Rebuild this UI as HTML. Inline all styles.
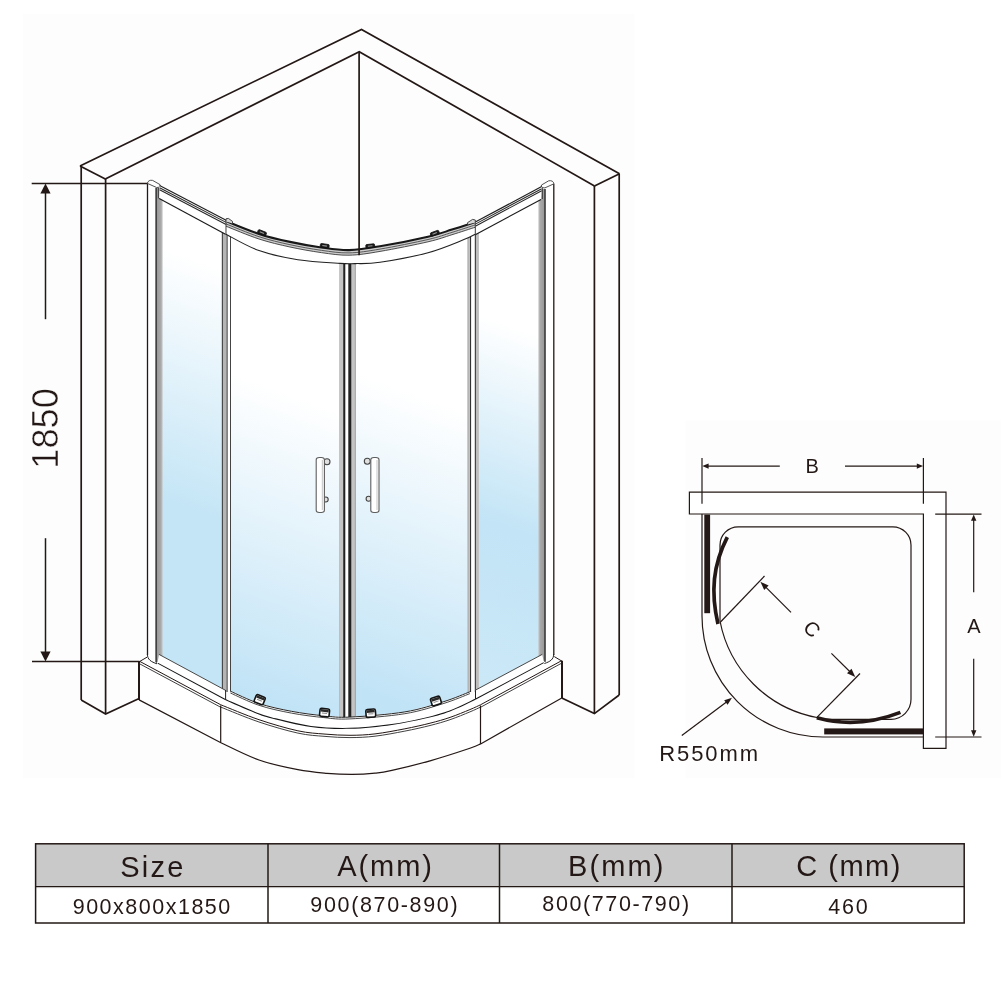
<!DOCTYPE html>
<html><head><meta charset="utf-8"><title>Shower enclosure 900x800x1850</title>
<style>
html,body{margin:0;padding:0;background:#ffffff;}
body{width:1001px;height:1001px;overflow:hidden;font-family:"Liberation Sans",sans-serif;}
svg{display:block;will-change:transform;}
</style></head><body>
<svg width="1001" height="1001" viewBox="0 0 1001 1001">
<defs>
<linearGradient id="gL" x1="192" y1="258" x2="110.9" y2="480.8" gradientUnits="userSpaceOnUse">
<stop offset="0" stop-color="#ffffff"/><stop offset="1" stop-color="#c4e5f6"/>
</linearGradient>
<linearGradient id="gR" x1="509" y1="325" x2="389.6" y2="653" gradientUnits="userSpaceOnUse">
<stop offset="0" stop-color="#ffffff"/><stop offset="0.55" stop-color="#c2e4f6"/><stop offset="1" stop-color="#cbe8f7"/>
</linearGradient>
<linearGradient id="gDL" x1="285" y1="392" x2="182.4" y2="674" gradientUnits="userSpaceOnUse">
<stop offset="0" stop-color="#ffffff"/><stop offset="1" stop-color="#c0e3f6"/>
</linearGradient>
<linearGradient id="gDR" x1="411" y1="392" x2="308.4" y2="674" gradientUnits="userSpaceOnUse">
<stop offset="0" stop-color="#ffffff"/><stop offset="1" stop-color="#c0e3f6"/>
</linearGradient>
<linearGradient id="gPL" x1="0" y1="0" x2="1" y2="0">
<stop offset="0" stop-color="#555555"/><stop offset="0.22" stop-color="#9a9a9a"/><stop offset="0.7" stop-color="#a8a8a8"/><stop offset="1" stop-color="#c4c4c4"/>
</linearGradient>
<linearGradient id="gPR" x1="1" y1="0" x2="0" y2="0">
<stop offset="0" stop-color="#555555"/><stop offset="0.22" stop-color="#9a9a9a"/><stop offset="0.7" stop-color="#a8a8a8"/><stop offset="1" stop-color="#c4c4c4"/>
</linearGradient>
</defs>
<rect x="0" y="0" width="1001" height="1001" fill="#ffffff"/>
<rect x="23" y="14" width="611.5" height="764" fill="#fdfdfd"/>
<rect x="685.5" y="420.5" width="315.5" height="357.5" fill="#fdfdfd"/>
<path d="M80 166L361.5 29.5L619.5 173.75" fill="none" stroke="#231815" stroke-width="1.7" stroke-linejoin="miter"/>
<path d="M105.3 179L359.25 51.75L594.5 186" fill="none" stroke="#231815" stroke-width="1.7" stroke-linejoin="miter"/>
<line x1="80" y1="166" x2="105.3" y2="179" stroke="#231815" stroke-width="1.7" />
<line x1="594.5" y1="186" x2="619.5" y2="173.75" stroke="#231815" stroke-width="1.7" />
<line x1="81.2" y1="166.5" x2="81.2" y2="700" stroke="#231815" stroke-width="1.7" />
<line x1="105.6" y1="179" x2="105.6" y2="714" stroke="#231815" stroke-width="1.7" />
<path d="M81.2 700L105.6 714L139.1 698.5" fill="none" stroke="#231815" stroke-width="1.7" />
<line x1="594.4" y1="186" x2="594.4" y2="713.6" stroke="#231815" stroke-width="1.7" />
<line x1="619.2" y1="174" x2="619.2" y2="695" stroke="#231815" stroke-width="1.7" />
<path d="M619.2 695L594.4 713.6L561.8 698" fill="none" stroke="#231815" stroke-width="1.7" />
<path d="M160 198.33L223 232.25L223 688.95L160 654.94" fill="url(#gL)" stroke="none" stroke-width="0" />
<path d="M477 233.29L541 199L541 655.04L477 689.3" fill="url(#gR)" stroke="none" stroke-width="0" />
<path d="M225.5 234C231.08 236.77 246.93 246.32 259 250.6C271.07 254.88 284.4 257.57 297.9 259.7C311.4 261.83 330.48 262.75 340 263.4C349.52 264.05 352.5 263.57 355 263.6L349.9 717.1L349.9 717.1L323.9 715.8L291.4 711.3L259 703.5L230.4 691.2Z" fill="url(#gDL)" stroke="none" stroke-width="0" />
<path d="M355 263.6C359.17 263.38 367.83 264.12 380 262.3C392.17 260.48 414.02 256.48 428 252.7C441.98 248.92 456.02 242.68 463.9 239.6C471.78 236.52 473.4 235.1 475.3 234.2L469.9 691.8L443.9 701.6L404.9 711.9L349.9 717.1Z" fill="url(#gDR)" stroke="none" stroke-width="0" />
<rect x="147.3" y="184" width="8.6" height="474" fill="#ffffff"/>
<rect x="155.6" y="188" width="7" height="474" fill="url(#gPL)"/>
<line x1="147.5" y1="183.4" x2="147.5" y2="655" stroke="#231815" stroke-width="1.3" />
<line x1="156.2" y1="188" x2="156.2" y2="663" stroke="#3a3a3a" stroke-width="1.4" />
<rect x="545.4" y="184" width="8.6" height="474" fill="#ffffff"/>
<rect x="538.4" y="189" width="7" height="472" fill="url(#gPR)"/>
<line x1="553.8" y1="183.8" x2="553.8" y2="655" stroke="#231815" stroke-width="1.3" />
<line x1="545" y1="189" x2="545" y2="662" stroke="#3a3a3a" stroke-width="1.4" />
<path d="M147.4 183.4C147.6 181 150 179.8 152.6 180.4L160 184.6C160.8 186.2 159.4 187.6 156.6 187.5Z" fill="#ffffff" stroke="#3c3c3c" stroke-width="0.9" />
<path d="M553.9 183.8C553.7 181.4 551.3 180.2 548.7 180.8L541.5 185C540.7 186.6 542.1 188 544.9 187.9Z" fill="#ffffff" stroke="#3c3c3c" stroke-width="0.9" />
<line x1="158.4" y1="187.6" x2="158.4" y2="198.4" stroke="#333" stroke-width="0.9" />
<line x1="542.4" y1="188" x2="542.4" y2="199" stroke="#333" stroke-width="0.9" />
<rect x="221.8" y="224" width="9.2" height="468" fill="#ffffff"/>
<rect x="221.8" y="224" width="1.2" height="468" fill="#4a4a4a"/>
<rect x="223" y="224" width="3.3" height="468" fill="#b5b5b5"/>
<rect x="226.5" y="224" width="1.1" height="468" fill="#333"/>
<rect x="230" y="224" width="1" height="468" fill="#444"/>
<rect x="467.3" y="224" width="11.7" height="468" fill="#ffffff"/>
<rect x="467.3" y="224" width="2.3" height="468" fill="#b5b5b5"/>
<rect x="469.9" y="224" width="1.2" height="468" fill="#333"/>
<rect x="474.8" y="224" width="1.1" height="468" fill="#333"/>
<rect x="476" y="224" width="2.9" height="468" fill="#bdbdbd"/>
<rect x="339.6" y="262" width="16" height="455.5" fill="#ffffff"/>
<rect x="339.6" y="262" width="0.8" height="455.5" fill="#777"/>
<rect x="340.4" y="262" width="2.8" height="455.5" fill="#c4c4c4"/>
<rect x="343.2" y="262" width="2.1" height="455.5" fill="#222"/>
<rect x="348.3" y="262" width="3.3" height="455.5" fill="#222"/>
<rect x="351.6" y="262" width="3.2" height="455.5" fill="#c4c4c4"/>
<rect x="354.8" y="262" width="0.8" height="455.5" fill="#777"/>
<path d="M159.6 185.6L226.1 220.3L225.5 233.8L159.2 197.9Z" fill="#ffffff" stroke="none" stroke-width="0" />
<path d="M159.6 185.6L226.1 220.3" fill="none" stroke="#1e1e1e" stroke-width="1.15" />
<path d="M159.6 187.7L226.1 222.4" fill="none" stroke="#2a2a2a" stroke-width="1.05" />
<path d="M159.6 189.8L226.1 224.5" fill="none" stroke="#262626" stroke-width="1.05" />
<path d="M159.2 198.4L225.5 234.3" fill="none" stroke="#1a1a1a" stroke-width="1.1" />
<path d="M475.3 222L541.7 186.6L541 199L475.3 234.2Z" fill="#ffffff" stroke="none" stroke-width="0" />
<path d="M475.3 222L541.7 186.6" fill="none" stroke="#1e1e1e" stroke-width="1.15" />
<path d="M475.3 224.1L541.7 188.7" fill="none" stroke="#2a2a2a" stroke-width="1.05" />
<path d="M475.3 226.2L541.7 190.8" fill="none" stroke="#262626" stroke-width="1.05" />
<path d="M475.3 234.7L541 199.5" fill="none" stroke="#1a1a1a" stroke-width="1.1" />
<path d="M226 221C231.5 223.13 248.33 230.33 259 233.8C269.67 237.27 279.62 239.53 290 241.8C300.38 244.07 311.47 246.03 321.3 247.4C331.13 248.77 339.22 250.2 349 250C358.78 249.8 366.83 248.43 380 246.2C393.17 243.97 416 239.38 428 236.6C440 233.82 444.12 231.93 452 229.5C459.88 227.07 471.42 223.25 475.3 222L475.3 234.2C473.4 235.1 471.78 236.52 463.9 239.6C456.02 242.68 441.98 248.92 428 252.7C414.02 256.48 392.17 260.48 380 262.3C367.83 264.12 361.67 263.42 355 263.6C348.33 263.78 349.52 264.05 340 263.4C330.48 262.75 311.4 261.83 297.9 259.7C284.4 257.57 271.07 254.88 259 250.6C246.93 246.32 231.08 236.77 225.5 234Z" fill="#ffffff" stroke="none" stroke-width="0" />
<path d="M226 221C231.5 223.13 248.33 230.33 259 233.8C269.67 237.27 279.62 239.53 290 241.8C300.38 244.07 311.47 246.03 321.3 247.4C331.13 248.77 339.22 250.2 349 250C358.78 249.8 366.83 248.43 380 246.2C393.17 243.97 416 239.38 428 236.6C440 233.82 444.12 231.93 452 229.5C459.88 227.07 471.42 223.25 475.3 222L475.3 227.2C471.42 228.45 459.88 232.27 452 234.7C444.12 237.13 440 239.02 428 241.8C416 244.58 393.17 249.17 380 251.4C366.83 253.63 358.78 255 349 255.2C339.22 255.4 331.13 253.97 321.3 252.6C311.47 251.23 300.38 249.27 290 247C279.62 244.73 269.67 242.47 259 239C248.33 235.53 231.5 228.33 226 226.2Z" fill="#cdcdcd" stroke="none" stroke-width="0" />
<path d="M226 221.1C231.5 223.23 248.33 230.43 259 233.9C269.67 237.37 279.62 239.63 290 241.9C300.38 244.17 311.47 246.13 321.3 247.5C331.13 248.87 339.22 250.3 349 250.1C358.78 249.9 366.83 248.53 380 246.3C393.17 244.07 416 239.48 428 236.7C440 233.92 444.12 232.03 452 229.6C459.88 227.17 471.42 223.35 475.3 222.1" fill="none" stroke="#181818" stroke-width="2.1" />
<path d="M226 223.9C231.5 226.03 248.33 233.23 259 236.7C269.67 240.17 279.62 242.43 290 244.7C300.38 246.97 311.47 248.93 321.3 250.3C331.13 251.67 339.22 253.1 349 252.9C358.78 252.7 366.83 251.33 380 249.1C393.17 246.87 416 242.28 428 239.5C440 236.72 444.12 234.83 452 232.4C459.88 229.97 471.42 226.15 475.3 224.9" fill="none" stroke="#4a4a4a" stroke-width="0.9" />
<path d="M226 226.2C231.5 228.33 248.33 235.53 259 239C269.67 242.47 279.62 244.73 290 247C300.38 249.27 311.47 251.23 321.3 252.6C331.13 253.97 339.22 255.4 349 255.2C358.78 255 366.83 253.63 380 251.4C393.17 249.17 416 244.58 428 241.8C440 239.02 444.12 237.13 452 234.7C459.88 232.27 471.42 228.45 475.3 227.2" fill="none" stroke="#3a3a3a" stroke-width="0.9" />
<path d="M225.5 234C231.08 236.77 246.93 246.32 259 250.6C271.07 254.88 284.4 257.57 297.9 259.7C311.4 261.83 330.48 262.75 340 263.4C349.52 264.05 348.33 263.78 355 263.6C361.67 263.42 367.83 264.12 380 262.3C392.17 260.48 414.02 256.48 428 252.7C441.98 248.92 456.02 242.68 463.9 239.6C471.78 236.52 473.4 235.1 475.3 234.2" fill="none" stroke="#222" stroke-width="1.1" />
<line x1="226" y1="220" x2="226" y2="234" stroke="#333" stroke-width="0.9" />
<line x1="475.3" y1="222" x2="475.3" y2="234.2" stroke="#333" stroke-width="0.9" />
<path d="M226 221.4L226 218.8L228.4 218.4L232.5 221.4L232.5 223.6" fill="#d8d8d8" stroke="#333" stroke-width="0.9" />
<path d="M475.3 222.4L475.3 220L472.6 219.4L467.6 222.6L467.6 224.6" fill="#d8d8d8" stroke="#333" stroke-width="0.9" />
<g transform="translate(261.5 234) rotate(22)"><rect x="-4.4" y="-3.2" width="8.8" height="3.6" rx="1" fill="#1c1c1c" stroke="#111" stroke-width="0.8"/><rect x="-2.4" y="-1.9" width="4.6" height="1.1" fill="#999"/></g>
<g transform="translate(324.5 247.2) rotate(8)"><rect x="-4.4" y="-3.2" width="8.8" height="3.6" rx="1" fill="#1c1c1c" stroke="#111" stroke-width="0.8"/><rect x="-2.4" y="-1.9" width="4.6" height="1.1" fill="#999"/></g>
<g transform="translate(370.4 247.4) rotate(-6)"><rect x="-4.4" y="-3.2" width="8.8" height="3.6" rx="1" fill="#1c1c1c" stroke="#111" stroke-width="0.8"/><rect x="-2.4" y="-1.9" width="4.6" height="1.1" fill="#999"/></g>
<g transform="translate(435.3 234.6) rotate(-20)"><rect x="-4.4" y="-3.2" width="8.8" height="3.6" rx="1" fill="#1c1c1c" stroke="#111" stroke-width="0.8"/><rect x="-2.4" y="-1.9" width="4.6" height="1.1" fill="#999"/></g>
<line x1="359.1" y1="52" x2="359.1" y2="255.2" stroke="#231815" stroke-width="1.7" />
<path d="M159 654.4L225.5 690.3L225.5 700.2L157.4 663.6Z" fill="#ffffff" stroke="none" stroke-width="0" />
<path d="M159 654.4L225.5 690.3" fill="none" stroke="#333" stroke-width="0.9" />
<path d="M157.4 663.6L225.5 700.2" fill="none" stroke="#161616" stroke-width="2.0" />
<path d="M475.5 690.1L542.2 654.4L544 663.1L475.5 699.7Z" fill="#ffffff" stroke="none" stroke-width="0" />
<path d="M475.5 690.1L542.2 654.4" fill="none" stroke="#333" stroke-width="0.9" />
<path d="M475.5 699.7L544 663.1" fill="none" stroke="#161616" stroke-width="2.0" />
<path d="M230.4 691.2C235.17 693.25 248.83 700.15 259 703.5C269.17 706.85 280.58 709.25 291.4 711.3C302.22 713.35 314.15 714.83 323.9 715.8C333.65 716.77 336.4 717.75 349.9 717.1C363.4 716.45 389.23 714.48 404.9 711.9C420.57 709.32 433.07 704.95 443.9 701.6C454.73 698.25 465.57 693.43 469.9 691.8L475.5 699.7C471.25 701.65 458.42 708.25 450 711.4C441.58 714.55 434.68 716.35 425 718.6C415.32 720.85 404.42 723.2 391.9 724.9C379.38 726.6 363.4 728.47 349.9 728.8C336.4 729.13 323.9 728.63 310.9 726.9C297.9 725.17 281.22 720.73 271.9 718.4C262.58 716.07 262.73 715.93 255 712.9C247.27 709.87 230.42 702.32 225.5 700.2Z" fill="#ffffff" stroke="none" stroke-width="0" />
<path d="M230.4 691.2C235.17 693.25 248.83 700.15 259 703.5C269.17 706.85 280.58 709.25 291.4 711.3C302.22 713.35 314.15 714.83 323.9 715.8C333.65 716.77 336.4 717.75 349.9 717.1C363.4 716.45 389.23 714.48 404.9 711.9C420.57 709.32 433.07 704.95 443.9 701.6C454.73 698.25 465.57 693.43 469.9 691.8" fill="none" stroke="#262626" stroke-width="1.0" />
<path d="M230.4 693C235.17 695.05 248.83 701.95 259 705.3C269.17 708.65 280.58 711.05 291.4 713.1C302.22 715.15 314.15 716.63 323.9 717.6C333.65 718.57 336.4 719.55 349.9 718.9C363.4 718.25 389.23 716.28 404.9 713.7C420.57 711.12 433.07 706.75 443.9 703.4C454.73 700.05 465.57 695.23 469.9 693.6" fill="none" stroke="#333" stroke-width="0.9" />
<path d="M225.5 700.2C230.42 702.32 247.27 709.87 255 712.9C262.73 715.93 262.58 716.07 271.9 718.4C281.22 720.73 297.9 725.17 310.9 726.9C323.9 728.63 336.4 729.13 349.9 728.8C363.4 728.47 379.38 726.6 391.9 724.9C404.42 723.2 415.32 720.85 425 718.6C434.68 716.35 441.58 714.55 450 711.4C458.42 708.25 471.25 701.65 475.5 699.7" fill="none" stroke="#161616" stroke-width="2.0" />
<line x1="225.6" y1="690" x2="225.6" y2="700" stroke="#222" stroke-width="1.0" />
<line x1="475.5" y1="690.2" x2="475.5" y2="699.7" stroke="#222" stroke-width="1.0" />
<g transform="translate(259.5 700.2) rotate(22)"><rect x="-4.8" y="-4.6" width="9.6" height="8" rx="1.6" fill="#ffffff" stroke="#141414" stroke-width="1.6"/><rect x="-4" y="-3.8" width="8" height="2.6" fill="#2a2a2a"/><rect x="-2.6" y="-0.4" width="5.2" height="1" fill="#888"/></g>
<g transform="translate(324.5 713.2) rotate(6)"><rect x="-4.8" y="-4.6" width="9.6" height="8" rx="1.6" fill="#ffffff" stroke="#141414" stroke-width="1.6"/><rect x="-4" y="-3.8" width="8" height="2.6" fill="#2a2a2a"/><rect x="-2.6" y="-0.4" width="5.2" height="1" fill="#888"/></g>
<g transform="translate(370.8 713.8) rotate(-4)"><rect x="-4.8" y="-4.6" width="9.6" height="8" rx="1.6" fill="#ffffff" stroke="#141414" stroke-width="1.6"/><rect x="-4" y="-3.8" width="8" height="2.6" fill="#2a2a2a"/><rect x="-2.6" y="-0.4" width="5.2" height="1" fill="#888"/></g>
<g transform="translate(436.1 701.6) rotate(-18)"><rect x="-4.8" y="-4.6" width="9.6" height="8" rx="1.6" fill="#ffffff" stroke="#141414" stroke-width="1.6"/><rect x="-4" y="-3.8" width="8" height="2.6" fill="#2a2a2a"/><rect x="-2.6" y="-0.4" width="5.2" height="1" fill="#888"/></g>
<path d="M139.1 661.2L147.6 656.6L157.4 663.6L225.5 700.2C230.42 702.32 247.27 709.87 255 712.9C262.73 715.93 262.58 716.07 271.9 718.4C281.22 720.73 297.9 725.17 310.9 726.9C323.9 728.63 336.4 729.13 349.9 728.8C363.4 728.47 379.38 726.6 391.9 724.9C404.42 723.2 415.32 720.85 425 718.6C434.68 716.35 441.58 714.55 450 711.4C458.42 708.25 471.25 701.65 475.5 699.7L544 663.1L554 656.4L562 660.7L562 698L480.6 743.9C478.82 744.63 478.18 745.52 469.9 748.3C461.62 751.08 443.9 756.92 430.9 760.6C417.9 764.28 401.22 768.3 391.9 770.4C382.58 772.5 381.65 772.53 375 773.2C368.35 773.87 360 774.38 352 774.4C344 774.42 336.02 774.08 327 773.3C317.98 772.52 309.23 771.92 297.9 769.7C286.57 767.48 271.83 764.5 259 760C246.17 755.5 227.25 745.58 220.9 742.7L139.1 699.9Z" fill="#ffffff" stroke="none" stroke-width="0" />
<line x1="139" y1="661.2" x2="139" y2="699.9" stroke="#231815" stroke-width="2.0" />
<line x1="562" y1="660.7" x2="562" y2="698" stroke="#231815" stroke-width="2.0" />
<path d="M139.1 661.8L147 657.2" fill="none" stroke="#231815" stroke-width="1.0" />
<path d="M554.3 656.6L561.8 661.1" fill="none" stroke="#231815" stroke-width="1.0" />
<path d="M147.4 654C147.4 659.6 151 661.8 157 663.8" fill="none" stroke="#222" stroke-width="1.0" />
<path d="M553.7 654C553.7 659.6 550 661.6 544.4 663.5" fill="none" stroke="#222" stroke-width="1.0" />
<path d="M139.4 661.2L220.8 704.8" fill="none" stroke="#231815" stroke-width="1.0" />
<path d="M139.4 663.7L220.8 707.3" fill="none" stroke="#2a2a2a" stroke-width="0.9" />
<path d="M480.5 704.8L561.6 660.7" fill="none" stroke="#231815" stroke-width="1.0" />
<path d="M480.5 707.3L561.6 663.2" fill="none" stroke="#2a2a2a" stroke-width="0.9" />
<path d="M220.8 704.8C227.17 707.28 246.15 715.37 259 719.7C271.85 724.03 286.9 728.4 297.9 730.8C308.9 733.2 316.32 733.35 325 734.1C333.68 734.85 341.67 735.33 350 735.3C358.33 735.27 365.85 734.98 375 733.9C384.15 732.82 395.73 730.58 404.9 728.8C414.07 727.02 422.48 725.1 430 723.2C437.52 721.3 443.35 719.67 450 717.4C456.65 715.13 464.82 711.7 469.9 709.6C474.98 707.5 478.73 705.6 480.5 704.8" fill="none" stroke="#231815" stroke-width="1.0" />
<path d="M220.8 707.1C227.17 709.58 246.15 717.67 259 722C271.85 726.33 286.9 730.7 297.9 733.1C308.9 735.5 316.32 735.65 325 736.4C333.68 737.15 341.67 737.63 350 737.6C358.33 737.57 365.85 737.28 375 736.2C384.15 735.12 395.73 732.88 404.9 731.1C414.07 729.32 422.48 727.4 430 725.5C437.52 723.6 443.35 721.97 450 719.7C456.65 717.43 464.82 714 469.9 711.9C474.98 709.8 478.73 707.9 480.5 707.1" fill="none" stroke="#2a2a2a" stroke-width="0.9" />
<path d="M139.1 699.9L220.9 742.7C227.25 745.58 246.17 755.5 259 760C271.83 764.5 286.57 767.48 297.9 769.7C309.23 771.92 317.98 772.52 327 773.3C336.02 774.08 344 774.42 352 774.4C360 774.38 368.35 773.87 375 773.2C381.65 772.53 382.58 772.5 391.9 770.4C401.22 768.3 417.9 764.28 430.9 760.6C443.9 756.92 461.62 751.08 469.9 748.3C478.18 745.52 478.82 744.63 480.6 743.9L561.8 698" fill="none" stroke="#231815" stroke-width="1.2" />
<line x1="220.7" y1="705.5" x2="220.7" y2="742.7" stroke="#231815" stroke-width="1.2" />
<line x1="480.5" y1="705.5" x2="480.5" y2="743.9" stroke="#231815" stroke-width="1.2" />
<circle cx="327" cy="461.8" r="3.0" fill="#e0e0e0" stroke="#444" stroke-width="1.1"/>
<circle cx="325.7" cy="499.5" r="2.5" fill="#e0e0e0" stroke="#444" stroke-width="1.1"/>
<rect x="316.2" y="457.5" width="8.2" height="55" rx="3" ry="2.2" fill="#ffffff" stroke="#5e5e5e" stroke-width="1.1"/>
<line x1="322.4" y1="460" x2="322.4" y2="510" stroke="#cfcfcf" stroke-width="1.2"/>
<circle cx="367.3" cy="461.2" r="3.0" fill="#e0e0e0" stroke="#444" stroke-width="1.1"/>
<circle cx="368.6" cy="498.8" r="2.5" fill="#e0e0e0" stroke="#444" stroke-width="1.1"/>
<rect x="370.8" y="457.5" width="8.2" height="55" rx="3" ry="2.2" fill="#ffffff" stroke="#5e5e5e" stroke-width="1.1"/>
<line x1="377" y1="460" x2="377" y2="510" stroke="#cfcfcf" stroke-width="1.2"/>
<line x1="31.7" y1="183.4" x2="147.5" y2="183.4" stroke="#231815" stroke-width="1.5" />
<line x1="32" y1="661.6" x2="139.1" y2="661.6" stroke="#231815" stroke-width="1.5" />
<line x1="45.5" y1="190" x2="45.5" y2="319.2" stroke="#231815" stroke-width="1.5" />
<line x1="45.5" y1="538.2" x2="45.5" y2="655" stroke="#231815" stroke-width="1.5" />
<path d="M45.5 183.6L40.4 193.6L50.6 193.6Z" fill="#231815" stroke="none" stroke-width="0" />
<path d="M45.5 661.4L40.4 651.4L50.6 651.4Z" fill="#231815" stroke="none" stroke-width="0" />
<text transform="translate(58.3 428.4) rotate(-90)" text-anchor="middle" font-family="Liberation Sans, sans-serif" font-size="36" letter-spacing="0.2" fill="#231815" stroke="#ffffff" stroke-width="0.45">1850</text>
<path d="M689.4 492.1L946 492.1L946 748.3L923.4 748.3L923.4 514L689.4 514Z" fill="#ffffff" stroke="#231815" stroke-width="1.2" />
<path d="M702 514L702 616A121 121 0 0 0 823 737L923.4 737" fill="none" stroke="#231815" stroke-width="1.2" />
<path d="M720 621L720 545A18.2 18.2 0 0 1 738.2 526.8L892.8 526.8A18.2 18.2 0 0 1 911 545L911 699A20 20 0 0 1 891 719.3L826 719.3L817 717.5A121.4 121.4 0 0 1 720 621Z" fill="none" stroke="#231815" stroke-width="1.2" />
<rect x="704.3" y="514.6" width="5.8" height="98.6" fill="#231815"/>
<rect x="824.2" y="728.4" width="98.8" height="6" fill="#231815"/>
<path d="M727.3 537.2C713 565 710.5 592 718 624" fill="none" stroke="#231815" stroke-width="3.7" />
<path d="M816.8 717.8C845 725.5 872 723.5 900.4 712.4" fill="none" stroke="#231815" stroke-width="3.7" />
<line x1="720.5" y1="622" x2="764.5" y2="576" stroke="#231815" stroke-width="1.2" />
<line x1="816.7" y1="717.6" x2="860" y2="673.5" stroke="#231815" stroke-width="1.2" />
<line x1="791" y1="612.4" x2="764" y2="585.4" stroke="#231815" stroke-width="1.2" />
<path d="M760.4 581.8L768.6 585.6L764.2 590Z" fill="#231815" stroke="none" stroke-width="0" />
<line x1="831.4" y1="653.4" x2="852" y2="673.8" stroke="#231815" stroke-width="1.2" />
<path d="M855.3 677L847 673.3L851.5 668.8Z" fill="#231815" stroke="none" stroke-width="0" />
<text transform="translate(812.1 628.8) rotate(45)" text-anchor="middle" font-family="Liberation Sans, sans-serif" font-size="20" fill="#231815" dy="7.2">C</text>
<line x1="702" y1="458" x2="702" y2="503.8" stroke="#231815" stroke-width="1.2" />
<line x1="923.4" y1="458" x2="923.4" y2="503.8" stroke="#231815" stroke-width="1.2" />
<line x1="706" y1="466.1" x2="779.8" y2="466.1" stroke="#231815" stroke-width="1.2" />
<line x1="845" y1="466.1" x2="919" y2="466.1" stroke="#231815" stroke-width="1.2" />
<path d="M702.3 466.1L708.6 463.4L708.6 468.8Z" fill="#231815" stroke="none" stroke-width="0" />
<path d="M923.1 466.1L916.8 463.4L916.8 468.8Z" fill="#231815" stroke="none" stroke-width="0" />
<text x="812.1" y="473.3" text-anchor="middle" font-family="Liberation Sans, sans-serif" font-size="20" fill="#231815">B</text>
<line x1="935.2" y1="514.1" x2="981.5" y2="514.1" stroke="#231815" stroke-width="1.2" />
<line x1="935.2" y1="737" x2="981.5" y2="737" stroke="#231815" stroke-width="1.2" />
<line x1="973.7" y1="519" x2="973.7" y2="592.3" stroke="#231815" stroke-width="1.2" />
<line x1="973.7" y1="658.8" x2="973.7" y2="732" stroke="#231815" stroke-width="1.2" />
<path d="M973.7 514.4L971 520.8L976.4 520.8Z" fill="#231815" stroke="none" stroke-width="0" />
<path d="M973.7 736.7L971 730.3L976.4 730.3Z" fill="#231815" stroke="none" stroke-width="0" />
<text x="973.9" y="632.9" text-anchor="middle" font-family="Liberation Sans, sans-serif" font-size="20" fill="#231815">A</text>
<line x1="681.8" y1="735.5" x2="727.5" y2="701.2" stroke="#231815" stroke-width="1.2" />
<path d="M732 697.8L724.2 700.2L727.6 704.8Z" fill="#231815" stroke="none" stroke-width="0" />
<text x="659.3" y="761.4" font-family="Liberation Sans, sans-serif" font-size="22" letter-spacing="1.9" fill="#231815">R550mm</text>
<rect x="35.6" y="843.8" width="928.6" height="42.8" fill="#c9c9c9"/>
<rect x="35.6" y="886.6" width="928.6" height="36.4" fill="#ffffff"/>
<rect x="35.6" y="887.3" width="928.6" height="1.2" fill="#f4f4f4"/>
<rect x="35.6" y="843.8" width="928.6" height="79.2" fill="none" stroke="#231815" stroke-width="1.5"/>
<line x1="35.6" y1="886.6" x2="964.2" y2="886.6" stroke="#231815" stroke-width="1.3" />
<line x1="268" y1="843.8" x2="268" y2="923" stroke="#231815" stroke-width="1.5" />
<line x1="499.5" y1="843.8" x2="499.5" y2="923" stroke="#231815" stroke-width="1.5" />
<line x1="732" y1="843.8" x2="732" y2="923" stroke="#231815" stroke-width="1.5" />
<text x="152.95" y="876.6" text-anchor="middle" font-family="Liberation Sans, sans-serif" font-size="29" letter-spacing="2.3" fill="#231815">Size</text>
<text x="385.55" y="876.3" text-anchor="middle" font-family="Liberation Sans, sans-serif" font-size="29" letter-spacing="1.9" fill="#231815">A(mm)</text>
<text x="616.75" y="876.3" text-anchor="middle" font-family="Liberation Sans, sans-serif" font-size="29" letter-spacing="2.1" fill="#231815">B(mm)</text>
<text x="849.05" y="876.3" text-anchor="middle" font-family="Liberation Sans, sans-serif" font-size="29" letter-spacing="1.5" fill="#231815">C (mm)</text>
<text x="152.25" y="913.6" text-anchor="middle" font-family="Liberation Sans, sans-serif" font-size="21.5" letter-spacing="1.5" fill="#231815">900x800x1850</text>
<text x="384.82" y="911.8" text-anchor="middle" font-family="Liberation Sans, sans-serif" font-size="21.5" letter-spacing="1.65" fill="#231815">900(870-890)</text>
<text x="616.5" y="911.4" text-anchor="middle" font-family="Liberation Sans, sans-serif" font-size="21.5" letter-spacing="1.6" fill="#231815">800(770-790)</text>
<text x="848.95" y="913.6" text-anchor="middle" font-family="Liberation Sans, sans-serif" font-size="21.5" letter-spacing="1.9" fill="#231815">460</text>
</svg>
</body></html>
